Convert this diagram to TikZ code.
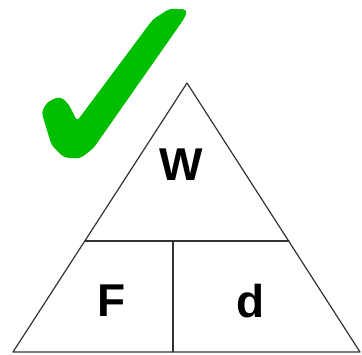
\documentclass[tikz,border=0pt]{standalone}
\usepackage{fontspec}
\setmainfont{Liberation Sans}
\definecolor{tickgreen}{RGB}{0,190,0}

\begin{document}
\begin{tikzpicture}[x=1pt,y=-1pt,line cap=round,line join=round,
  edge/.style={draw=black!80,line width=1.2pt},
  tick/.style={fill=tickgreen,draw=tickgreen,line width=1pt,rounded corners=4pt},
  letter/.style={font=\fontsize{46}{50}\selectfont\bfseries,inner sep=0pt}]
\useasboundingbox (0,0) rectangle (362,354);

% Green tick.
\path[tick] (42,112) -- (48,102) -- (60,97) -- (68,104) -- (77,122)
  -- (153,20) -- (170,9) -- (187,10) -- (184,18)
  -- (93,148) -- (80,158) -- (64,157) -- (52,145) -- cycle;

% Triangle with its three cells.
\coordinate (apex) at (187,83);
\coordinate (bl) at (13,352);
\coordinate (br) at (360,352);
\coordinate (ml) at (85,241);
\coordinate (mr) at (289,241);
\coordinate (mb) at (173,352);
\draw[edge] (apex) -- (br) -- (bl) -- cycle;
\draw[edge] (ml) -- (mr);
\draw[edge] (mb) -- (173,241);

\node[letter] (w) at (181,165) {W};
\node[letter] (f) at (112,301) {F};
\node[letter] (d) at (251,301) {d};
\end{tikzpicture}
\end{document}
